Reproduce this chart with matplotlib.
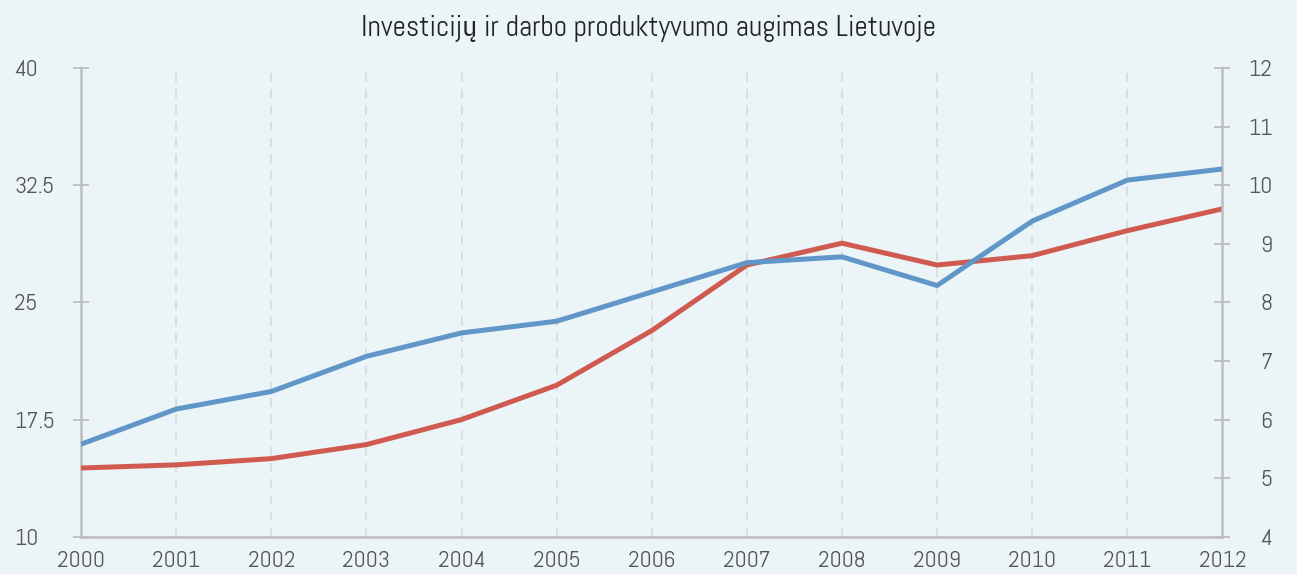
import matplotlib
matplotlib.use("Agg")
from matplotlib import pyplot as plt

# data
years = [2000, 2001, 2002, 2003, 2004, 2005, 2006, 2007, 2008, 2009, 2010, 2011, 2012]
# left axis (red)
investicijos = [14.4, 14.6, 15.0, 15.9, 17.5, 19.7, 23.2, 27.4, 28.8, 27.4, 28.0, 29.6, 31.0]
# right axis (blue)
produktyvumas = [5.58, 6.18, 6.48, 7.08, 7.48, 7.68, 8.18, 8.68, 8.78, 8.29, 9.39, 10.09, 10.28]

left_ticks = [10, 17.5, 25, 32.5, 40]
left_labels = ["10", "17.5", "25", "32.5", "40"]
right_ticks = [4, 5, 6, 7, 8, 9, 10, 11, 12]

title = "Investicijų ir darbo produktyvumo augimas Lietuvoje"

bg = "#ebf4f7"
red = "#d05a4f"
blue = "#6196c9"
axis_col = "#bdbdbd"
txt_col = "#555555"
plt.rcParams["font.family"] = ["Abel", "IBM Plex Sans Condensed", "DejaVu Sans"]

fig = plt.figure(figsize=(12.97, 5.74), dpi=100, facecolor=bg)
ax = fig.add_axes([0.0625, 0.065, 0.88, 0.816])
ax.set_facecolor(bg)
ax2 = ax.twinx()

ax.plot(years, investicijos, color=red, lw=3.6, solid_capstyle="butt", zorder=3)
ax2.plot(years, produktyvumas, color=blue, lw=3.6, solid_capstyle="butt", zorder=3)

ax.set_xlim(2000, 2012)
ax.set_ylim(10, 40)
ax2.set_ylim(4, 12)

ax.set_xticks(years)
ax.set_xticklabels([str(y) for y in years])
ax.set_yticks(left_ticks)
ax.set_yticklabels(left_labels)
ax2.set_yticks(right_ticks)

for y in years[1:-1]:
    ax.axvline(y, color="#d6dde1", lw=1.3, ls=(0, (5, 4)), zorder=1)

for a in (ax, ax2):
    for s in a.spines.values():
        s.set_visible(False)
ax.spines["left"].set_visible(True)
ax.spines["bottom"].set_visible(True)
ax2.spines["right"].set_visible(True)
for s in (ax.spines["left"], ax.spines["bottom"], ax2.spines["right"]):
    s.set_color(axis_col)
    s.set_linewidth(1.8)

ax.tick_params(axis="x", length=0, pad=10, labelsize=17, labelcolor=txt_col)
ax.tick_params(axis="y", direction="inout", length=12, width=1.3, color=axis_col,
               labelsize=17, labelcolor=txt_col, pad=42)
for lab in ax.get_yticklabels():
    lab.set_horizontalalignment("left")
ax2.tick_params(axis="y", direction="inout", length=12, width=1.3, color=axis_col,
                labelsize=17, labelcolor=txt_col, pad=30)
for lab in ax2.get_yticklabels():
    lab.set_horizontalalignment("right")

fig.text(0.5, 0.95, title, ha="center", va="center", fontsize=21, color="#222222")

fig.savefig("out.png", dpi=100, facecolor=bg)
